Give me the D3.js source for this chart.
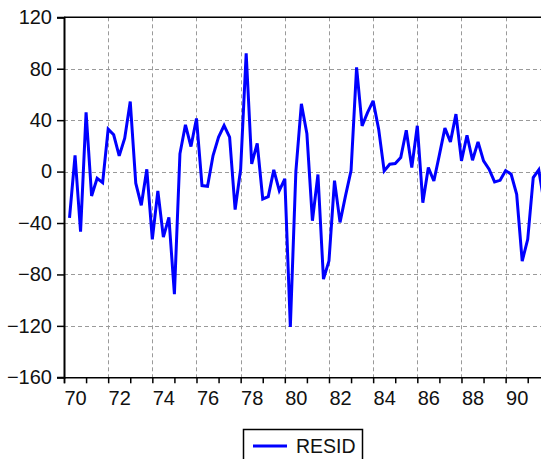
<!DOCTYPE html>
<html>
<head>
<meta charset="utf-8">
<script src="https://cdn.jsdelivr.net/npm/d3@7"></script>
<style>
  html, body { margin: 0; padding: 0; background: #fff; }
  svg { display: block; }
  text { font-family: "Liberation Sans", Arial, sans-serif; }
</style>
</head>
<body>
<script>
// ---- data (quarterly residuals, starting 1970Q2) ----
const startYear = 1970.25;
const step = 0.25;
const resid = [
  -36, 12.7, -46.8, 46, -19, -5.2, -8.6, 33, 28.6, 12.2, 26, 54.5, -9, -26.2, 1.8,
  -52.7, -15, -51, -35.6, -95.3, 13.8, 36.4, 19.5, 41.3, -10.9, -11.4, 12.5, 26.8,
  35.8, 26.8, -29.6, 2, 92, 6, 22, -21.3, -19.5, 1.3, -14.8, -5.7, -120.8, 0,
  52.7, 29.4, -38.2, -2.3, -83.6, -69.4, -7, -39.5, -18.7, 0.8, 81, 35.6, 46, 55,
  33, 0.5, 5.7, 6.2, 10.9, 32.2, 3.1, 35.6, -24.2, 3.1, -7.3, 13, 33.8, 23.1, 44.7,
  8.3, 28.3, 8.8, 23.1, 8.3, 1.8, -8, -6.8, 0.8, -2.1, -17.7, -69.6, -52.7, -4.7,
  1.3, -25
];
const yTicks = [-160, -120, -80, -40, 0, 40, 80, 120];
const yearTicks = d3.range(1970, 1993, 1);
const labelYears = [1970, 1972, 1974, 1976, 1978, 1980, 1982, 1984, 1986, 1988, 1990];
const seriesName = "RESID";

(function () {
const W = 541, H = 459;
const mLeft = 64, mTop = 17.3, mBottom = 377.3;
const mRight = 549.8;

const svg = d3.select("body").append("svg").attr("width", W).attr("height", H);

const x = d3.scaleLinear().domain([1970, 1992]).range([mLeft, mRight]);
const y = d3.scaleLinear().domain([-160, 120]).range([mBottom, mTop]);

// grid
const grid = svg.append("g").attr("stroke", "#9a9a9a").attr("stroke-width", 1)
  .attr("stroke-dasharray", "4,3").attr("fill", "none");
yTicks.filter(v => v > -160 && v < 120).forEach(v => {
  grid.append("line").attr("x1", mLeft).attr("x2", mRight)
    .attr("y1", Math.round(y(v)) + 0.5).attr("y2", Math.round(y(v)) + 0.5);
});
labelYears.filter(v => v > 1970).forEach(v => {
  grid.append("line").attr("y1", mTop).attr("y2", mBottom)
    .attr("x1", Math.round(x(v)) + 0.5).attr("x2", Math.round(x(v)) + 0.5);
});

// top border
svg.append("line").attr("x1", mLeft).attr("x2", mRight).attr("y1", mTop).attr("y2", mTop)
  .attr("stroke", "#000").attr("stroke-width", 1.5);

// y axis
const yAxis = svg.append("g").attr("transform", `translate(${mLeft},0)`)
  .call(d3.axisLeft(y).tickValues(yTicks).tickSize(7).tickPadding(5).tickFormat(d3.format("d")));
yAxis.select(".domain").attr("stroke", "#000").attr("stroke-width", 2);
yAxis.selectAll(".tick line").attr("stroke", "#000").attr("stroke-width", 1.5);
yAxis.selectAll(".tick text").attr("font-size", "20px").attr("fill", "#111")
  .attr("font-family", "'Liberation Sans', Arial, sans-serif");

// x axis ticks
const xAxis = svg.append("g").attr("transform", `translate(0,${mBottom})`)
  .call(d3.axisBottom(x).tickValues(yearTicks).tickSize(6).tickFormat(""));
xAxis.select(".domain").attr("stroke", "#000").attr("stroke-width", 1.5);
xAxis.selectAll(".tick line").attr("stroke", "#000").attr("stroke-width", 1.5);

// x labels (mid-year)
const xLab = svg.append("g").attr("transform", `translate(0,${mBottom})`)
  .call(d3.axisBottom(x).tickValues(labelYears.map(v => v + 0.5)).tickSize(0).tickPadding(14)
    .tickFormat(d => String(Math.floor(d) % 100).padStart(2, "0")));
xLab.select(".domain").remove();
xLab.selectAll(".tick text").attr("font-size", "20px").attr("fill", "#111")
  .attr("font-family", "'Liberation Sans', Arial, sans-serif");

// clip
svg.append("clipPath").attr("id", "plotclip").append("rect")
  .attr("x", mLeft + 1).attr("y", mTop).attr("width", mRight - mLeft).attr("height", mBottom - mTop);

const line = d3.line().x((d, i) => x(startYear + i * step)).y(d => y(d));
svg.append("path").datum(resid).attr("clip-path", "url(#plotclip)")
  .attr("fill", "none").attr("stroke", "#0000ff").attr("stroke-width", 3)
  .attr("stroke-linejoin", "miter").attr("stroke-miterlimit", 3).attr("d", line);

// legend
const lg = svg.append("g");
lg.append("rect").attr("x", 243.5).attr("y", 429.5).attr("width", 119).attr("height", 40)
  .attr("fill", "#fff").attr("stroke", "#000").attr("stroke-width", 1.5);
lg.append("line").attr("x1", 253).attr("x2", 287).attr("y1", 446).attr("y2", 446)
  .attr("stroke", "#0000ff").attr("stroke-width", 3);
lg.append("text").attr("x", 296).attr("y", 453).attr("font-size", "19.5px").attr("fill", "#111")
  .text(seriesName);
})();
</script>
</body>
</html>
